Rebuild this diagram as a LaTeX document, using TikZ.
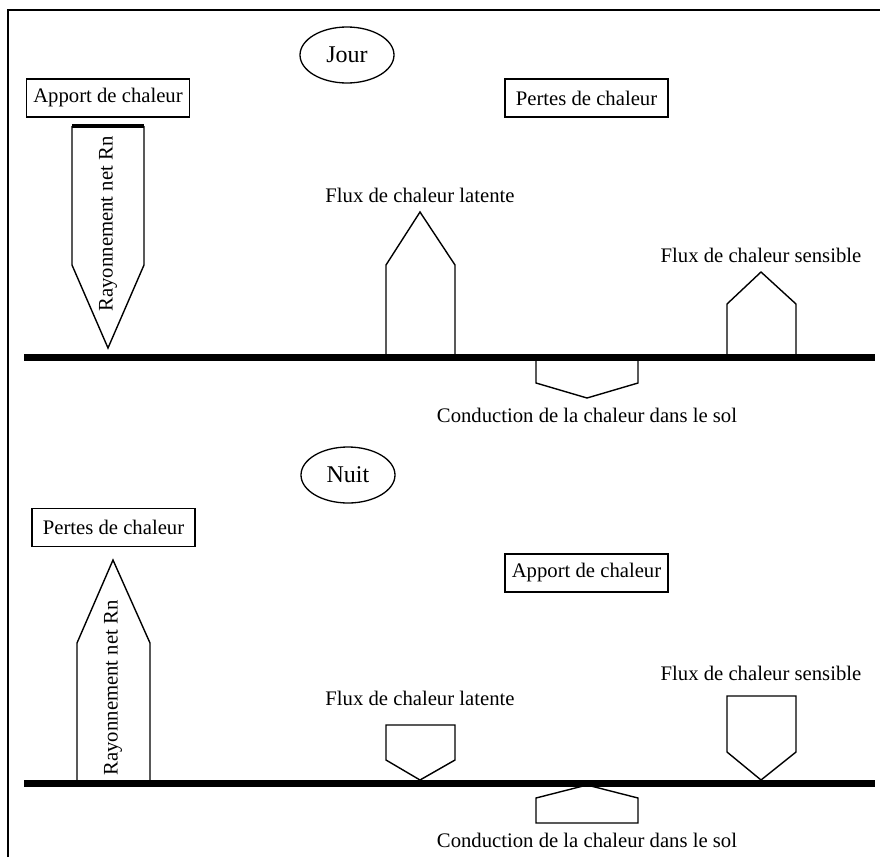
\documentclass[tikz,border=0pt]{standalone}
\usepackage{fontspec}
\setmainfont{Liberation Serif}
\usetikzlibrary{shapes.geometric}

\begin{document}
\begin{tikzpicture} [x = 1pt, y = -1pt,
    font = \fontsize{20.7}{24}\selectfont,
    boite/.style = {draw, line width = 1.3pt, minimum width = 163pt, minimum height = 38pt, inner sep = 0pt},
    periode/.style = {draw, ellipse, line width = 1.3pt, minimum width = 94pt, minimum height = 56pt, inner sep = 0pt, font = \fontsize{24}{28}\selectfont},
    fleche/.style = {line width = 1.4pt, line join = miter},
    sol/.style = {line width = 7pt},
    legende/.style = {anchor = base, inner sep = 0pt}]
      \useasboundingbox (0,0) rectangle (880,857);

      % cadre
      \draw [line width = 2pt](8,857)--(8,10)--(880,10);

      % ===== Jour =====
      \node [periode] (jour) at (347,55) {Jour};
      \node [boite] (apportJ) at (108,98) {Apport de chaleur};
      \node [boite] (pertesJ) at (586.5,98) {Pertes de chaleur};

      % sol
      \draw [sol](24,357)--(875,357);

      % rayonnement net
      \draw [fleche](72,126)--(72,265)--(108,348)--(144,265)--(144,126);
      \draw [line width = 4pt](72,126)--(144,126);
      \node [rotate = 90] (rnJ) at (108,224) {Rayonnement net Rn};

      % flux latent, flux sensible, conduction
      \draw [fleche](386,357)--(386,265)--(420,212)--(455,265)--(455,357);
      \node [legende] (latJ) at (420,202) {Flux de chaleur latente};
      \draw [fleche](727,357)--(727,304)--(761,272)--(796,304)--(796,357);
      \node [legende] (sensJ) at (761,262) {Flux de chaleur sensible};
      \draw [fleche](536,360)--(536,383)--(587,398)--(638,383)--(638,360);
      \node [legende] (condJ) at (587,422) {Conduction de la chaleur dans le sol};

      % ===== Nuit =====
      \node [periode] (nuit) at (348,475) {Nuit};
      \node [boite] (pertesN) at (113.5,527.5) {Pertes de chaleur};
      \node [boite] (apportN) at (586.5,573) {Apport de chaleur};

      % sol
      \draw [sol](24,783)--(875,783);

      % rayonnement net
      \draw [fleche](77,780)--(77,643)--(113,560)--(150,643)--(150,780);
      \node [rotate = 90] (rnN) at (113,688) {Rayonnement net Rn};

      % flux latent, flux sensible, conduction
      \draw [fleche](386,725)--(455,725)--(455,760)--(420,780)--(386,760)--cycle;
      \node [legende] (latN) at (420,705) {Flux de chaleur latente};
      \draw [fleche](727,696)--(796,696)--(796,752)--(761,780)--(727,752)--cycle;
      \node [legende] (sensN) at (761,680) {Flux de chaleur sensible};
      \draw [fleche](536,823)--(536,798)--(587,785)--(638,798)--(638,823)--cycle;
      \node [legende] (condN) at (587,847) {Conduction de la chaleur dans le sol};
    \end{tikzpicture}
\end{document}
